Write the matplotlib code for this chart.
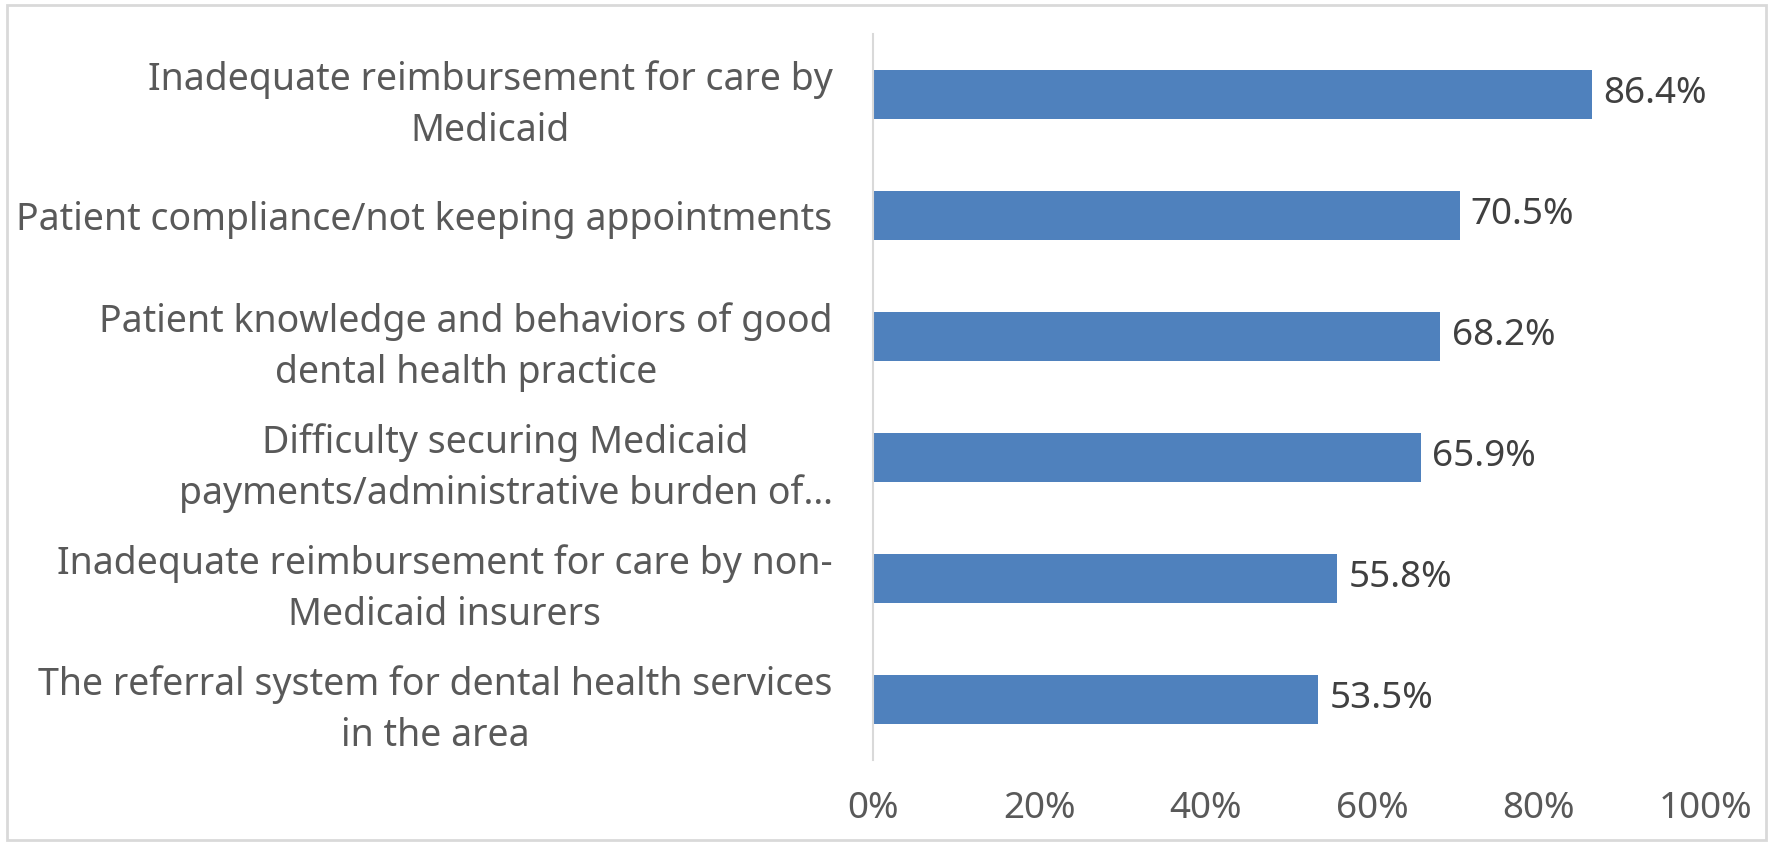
import matplotlib.pyplot as plt
import matplotlib
from matplotlib.patches import Rectangle
from matplotlib.ticker import FuncFormatter

matplotlib.rcParams['font.family'] = ['Noto Sans', 'DejaVu Sans']
matplotlib.rcParams['font.size'] = 27

# data, top to bottom as in the chart
labels = [
    'Inadequate reimbursement for care by\nMedicaid',
    'Patient compliance/not keeping appointments',
    'Patient knowledge and behaviors of good\ndental health practice',
    'Difficulty securing Medicaid\npayments/administrative burden of…',
    'Inadequate reimbursement for care by non-\nMedicaid insurers',
    'The referral system for dental health services\nin the area',
]
values = [86.4, 70.5, 68.2, 65.9, 55.8, 53.5]
xticks = [0, 20, 40, 60, 80, 100]

text_col = '#595959'
bar_col = '#4F81BD'

fig = plt.figure(figsize=(17.73, 8.43), dpi=100)
ax = fig.add_axes([0.4924, 0.0985, 0.4693, 0.8612])

pos = list(range(len(labels)))[::-1]
ax.barh(pos, values, height=0.4, color=bar_col)

for p, v in zip(pos, values):
    ax.annotate(f'{v:.1f}%', (v, p), xytext=(8, 0), textcoords='offset points',
                va='center', ha='left', color='#404040', fontsize=26.5)

ax.set_xlim(0, 100)
ax.set_ylim(-0.5, len(labels) - 0.5)
ax.set_xticks(xticks)
ax.xaxis.set_major_formatter(FuncFormatter(lambda x, _: f'{x:.0f}%'))
ax.set_yticks(pos)
ax.set_yticklabels(labels, multialignment='center', linespacing=1.42)

ax.tick_params(axis='x', length=0, pad=22, colors=text_col, labelsize=26.5)
ax.tick_params(axis='y', length=0, pad=29, colors=text_col)

for s in ['top', 'right', 'bottom']:
    ax.spines[s].set_visible(False)
ax.spines['left'].set_color('#D9D9D9')
ax.spines['left'].set_linewidth(1.5)

# light chart frame
fig.patches.append(Rectangle((0.004, 0.004), 0.992, 0.990, transform=fig.transFigure,
                             fill=False, edgecolor='#D9D9D9', linewidth=2))

plt.savefig('out.png', dpi=100)
